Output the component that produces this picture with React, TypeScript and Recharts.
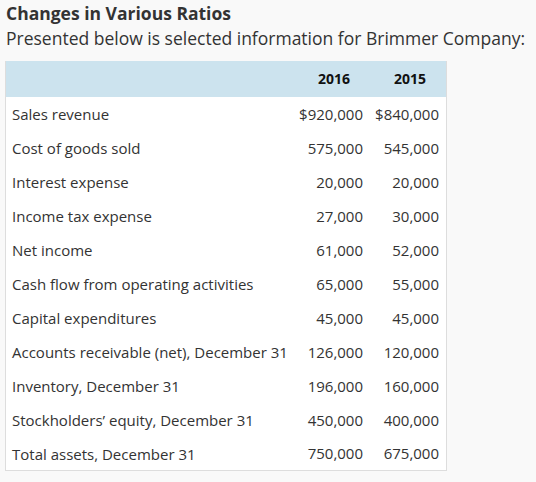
import React from 'react';
import { BarChart, Bar, XAxis, YAxis, LabelList } from 'recharts';

const rowLabels = [
  'Sales revenue',
  'Cost of goods sold',
  'Interest expense',
  'Income tax expense',
  'Net income',
  'Cash flow from operating activities',
  'Capital expenditures',
  'Accounts receivable (net), December 31',
  'Inventory, December 31',
  'Stockholders\u2019 equity, December 31',
  'Total assets, December 31',
];
const values2016 = [920000, 575000, 20000, 27000, 61000, 65000, 45000, 126000, 196000, 450000, 750000];
const values2015 = [840000, 545000, 20000, 30000, 52000, 55000, 45000, 120000, 160000, 400000, 675000];
const years = ['2016', '2015'];

const data = rowLabels.map((label, i) => ({ label, v2016: values2016[i], v2015: values2015[i] }));

const TEXT = '#333';
const FONT = '"Open Sans", sans-serif';

const fmt = (v: number, i: number) => (i === 0 ? '$' : '') + v.toLocaleString('en-US');

const valueCell = (right: number) => (props: any) => {
  const { y, height, value, index } = props;
  return (
    <text x={right} y={y + height / 2 + 0.5} textAnchor="end" dominantBaseline="central"
      fill={TEXT} fontSize={15} fontFamily={FONT}>
      {fmt(value, index)}
    </text>
  );
};

const RowTick = (props: any) => {
  const { y, payload } = props;
  return (
    <text x={6} y={y + 0.5} textAnchor="start" dominantBaseline="central" fill={TEXT} fontSize={15} fontFamily={FONT}>
      {payload.value}
    </text>
  );
};

export default function App() {
  return (
    <div style={{ position: 'absolute', left: 0, top: 0, width: 536, height: 482, background: '#f9f9f9', fontFamily: FONT, color: TEXT }}>
      <div style={{ position: 'absolute', left: 6, top: 5, fontSize: 17.5, fontWeight: 700, lineHeight: '17px', whiteSpace: 'nowrap' }}>
        Changes in Various Ratios
      </div>
      <div style={{ position: 'absolute', left: 6, top: 30, fontSize: 17.5, lineHeight: '17px', whiteSpace: 'nowrap' }}>
        Presented below is selected information for Brimmer Company:
      </div>
      <div style={{ position: 'absolute', left: 5, top: 61, width: 442, boxSizing: 'border-box', border: '1px solid #dddddd', borderTop: 'none', background: '#fff' }}>
        <div style={{ position: 'relative', height: 36, background: '#cce3ee', fontWeight: 700, fontSize: 14, color: '#111' }}>
          <span style={{ position: 'absolute', right: 96, top: 9, lineHeight: '18px' }}>{years[0]}</span>
          <span style={{ position: 'absolute', right: 20, top: 9, lineHeight: '18px' }}>{years[1]}</span>
        </div>
        <BarChart width={440} height={373} data={data} layout="vertical" margin={{ top: 0, right: 0, bottom: 0, left: 0 }}>
          <XAxis type="number" hide />
          <YAxis type="category" dataKey="label" width={290} axisLine={false} tickLine={false} tick={<RowTick />} />
          <Bar dataKey="v2016" stackId="row" fill="transparent" isAnimationActive={false}>
            <LabelList dataKey="v2016" content={valueCell(357)} />
          </Bar>
          <Bar dataKey="v2015" stackId="row" fill="transparent" isAnimationActive={false}>
            <LabelList dataKey="v2015" content={valueCell(433)} />
          </Bar>
        </BarChart>
      </div>
    </div>
  );
}
